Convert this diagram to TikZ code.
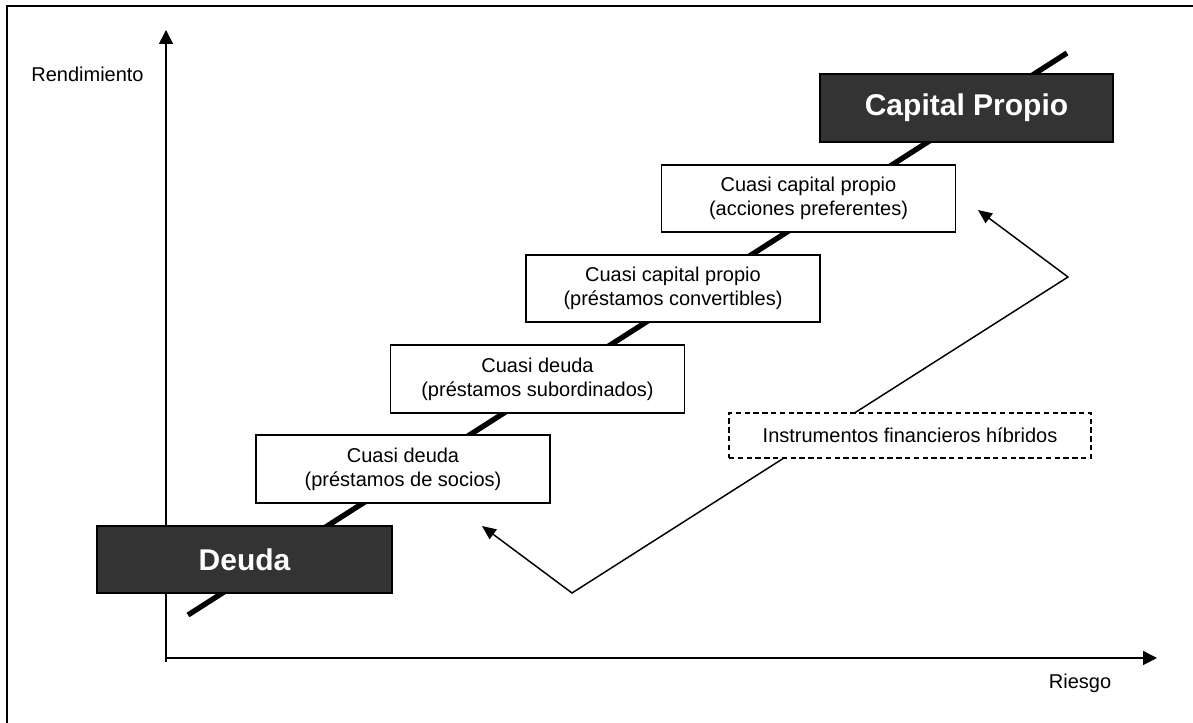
\documentclass[tikz,border=0pt]{standalone}
\usepackage{fontspec}
\setmainfont{Liberation Sans}
\usetikzlibrary{arrows.meta}
\definecolor{darkbox}{RGB}{51,51,51}
\tikzset{
  whitebox/.style={draw=black, fill=white, line width=1.1pt, rectangle, inner sep=0pt,
    align=center, font=\fontsize{15}{18}\selectfont},
  darkboxst/.style={draw=black, fill=darkbox, line width=1.1pt, rectangle, inner sep=0pt,
    align=center, text=white, font=\fontsize{22.5}{27}\selectfont\bfseries},
  dashbox/.style={draw=black, fill=white, line width=1.1pt, rectangle, inner sep=0pt,
    dash pattern=on 4pt off 2.6pt, align=center, font=\fontsize{15}{18}\selectfont},
  axislabel/.style={inner sep=0pt, font=\fontsize{15}{18}\selectfont},
  axisline/.style={line width=1.2pt, -{Triangle[length=10.5pt,width=10.5pt]}},
  thickline/.style={line width=4pt},
  thinarrow/.style={line width=1.1pt, {Triangle[length=10.5pt,width=9pt]}-{Triangle[length=10.5pt,width=9pt]}},
  framestyle/.style={line width=1.5pt}
}
\begin{document}
\begin{tikzpicture}[x=0.75pt,y=-0.75pt]
\useasboundingbox (0,0) rectangle (1193,723);
% frame
\coordinate (fbl) at (7,723);
\coordinate (ftl) at (7,6);
\coordinate (ftr) at (1193,6);
\draw[framestyle] (fbl) -- (ftl) -- (ftr);
% axes
\coordinate (origin) at (166,662);
\coordinate (ytip) at (166,30);
\coordinate (xstart) at (166,658);
\coordinate (xtip) at (1157,658);
\draw[axisline] (origin) -- (ytip);
\draw[axisline] (xstart) -- (xtip);
\node[axislabel] (rend) at (87.5,74) {Rendimiento};
\node[axislabel] (riesgo) at (1080,683) {Riesgo};
% thick diagonal line
\coordinate (lineA) at (188,615);
\coordinate (lineB) at (1067,53);
\draw[thickline] (lineA) -- (lineB);
% V arrows
\coordinate (tipA) at (482,526);
\coordinate (vert) at (572,593);
\coordinate (corner) at (1068,277);
\coordinate (tipB) at (978,210);
\draw[thinarrow] (tipA) -- (vert) -- (corner) -- (tipB);
% boxes
\node[darkboxst, minimum width=221.25pt, minimum height=50.25pt] (deuda) at (244.5,559.5) {Deuda};
\node[whitebox, minimum width=220.5pt, minimum height=51pt] (socios) at (403,469) {Cuasi deuda\\(préstamos de socios)};
\node[whitebox, minimum width=220.5pt, minimum height=51pt] (subord) at (537.5,379) {Cuasi deuda\\(préstamos subordinados)};
\node[whitebox, minimum width=220.5pt, minimum height=50.25pt] (convert) at (673,288.5) {Cuasi capital propio\\(préstamos convertibles)};
\node[whitebox, minimum width=220.5pt, minimum height=50.25pt] (acciones) at (808.5,198.5) {Cuasi capital propio\\(acciones preferentes)};
\node[darkboxst, minimum width=219.75pt, minimum height=51pt] (capital) at (966.5,108) {Capital Propio};
\node[dashbox, minimum width=271.5pt, minimum height=33.75pt] (hibridos) at (910,435.5) {Instrumentos financieros híbridos};
\end{tikzpicture}
\end{document}
